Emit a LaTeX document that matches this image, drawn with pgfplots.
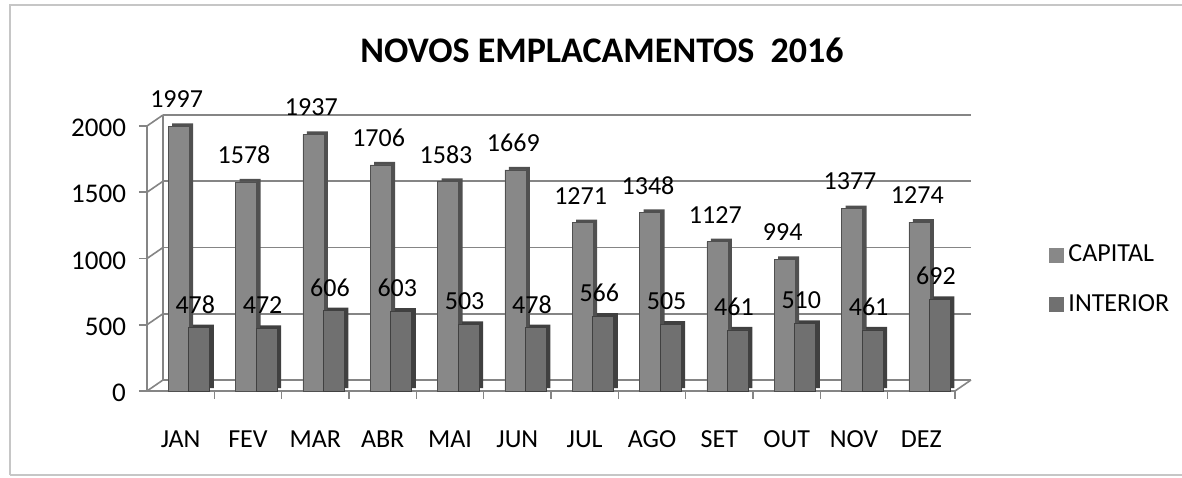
\documentclass[border=0pt]{standalone}
\usepackage{fontspec}
\setmainfont{Carlito}
\usepackage{pgfplots}
\pgfplotsset{compat=1.18}
\definecolor{capF}{HTML}{888888}
\definecolor{capS}{HTML}{505050}
\definecolor{intF}{HTML}{707070}
\definecolor{intS}{HTML}{404040}
\definecolor{gridc}{HTML}{858585}
\begin{document}
\begin{tikzpicture}
\useasboundingbox (0,0) rectangle (591pt,238.5pt);
\draw[gray!45, line width=0.8pt] (5pt,1pt) -- (5pt,236pt) -- (600pt,236pt);
\draw[gray!45, line width=0.8pt] (5pt,1pt) -- (600pt,1pt);
\node[font=\fontsize{18}{20}\selectfont\bfseries] at (301pt,213.5pt) {NOVOS EMPLACAMENTOS\ \ 2016};
\begin{axis}[
  at={(73.5pt,43pt)}, anchor=south west,
  scale only axis, width=404pt, height=132.5pt,
  xmin=-0.5, xmax=11.5, ymin=0, ymax=2000,
  clip=false,
  ybar, bar width=10.5pt,
  axis x line*=bottom, axis y line*=left,
  axis line style={gridc, line width=0.8pt},
  xtick={0,...,11},
  xticklabels={JAN,FEV,MAR,ABR,MAI,JUN,JUL,AGO,SET,OUT,NOV,DEZ},
  xtick style={draw=none},
  xticklabel style={anchor=center, yshift=-20pt, font=\fontsize{13}{15}\selectfont},
  ytick={0,500,...,2000},
  ytick style={gridc, line width=0.8pt},
  tick align=outside, major tick length=4pt,
  yticklabel style={anchor=east, xshift=-3pt, yshift=-1pt, font=\fontsize{13.5}{15}\selectfont},
  /pgf/number format/assume math mode=true,
  /pgf/number format/1000 sep={},
  legend style={at={(1.109,0.419)}, anchor=west, draw=none, fill=none,
    font=\fontsize{13}{15}\selectfont, row sep=11pt},
  legend cell align=left,
  legend image code/.code={\draw[#1, draw=none] (0pt,-3.75pt) rectangle (7.5pt,3.75pt);},
]
\pgfplotsinvokeforeach{0,500,1000,1500,2000}{
  \draw[gridc, line width=0.8pt] ([shift={(8pt,5.5pt)}]axis cs:-0.5,#1) -- ([shift={(8pt,5.5pt)}]axis cs:11.5,#1);
  \draw[gridc, line width=0.8pt] (axis cs:-0.5,#1) -- ([shift={(8pt,5.5pt)}]axis cs:-0.5,#1);
}
\draw[gridc, line width=0.6pt] ([shift={(8pt,5.5pt)}]axis cs:-0.5,0) -- ([shift={(8pt,5.5pt)}]axis cs:-0.5,2000);
\draw[gridc, line width=0.8pt] (axis cs:11.5,0) -- ([shift={(8pt,5.5pt)}]axis cs:11.5,0);
\pgfplotsinvokeforeach{0.5,1.5,...,11.5}{
  \draw[gridc, line width=0.8pt] (axis cs:#1,0) -- ++(0pt,-4pt);
}
% CAPITAL
\addplot[fill=capS, draw=none, bar shift=1pt, yshift=1.5pt, forget plot] coordinates {
 (0,1997) (1,1578) (2,1937) (3,1706) (4,1583) (5,1669) (6,1271) (7,1348) (8,1127) (9,994) (10,1377) (11,1274)};
\addplot[fill=capF, draw=capS, line width=0.3pt, bar shift=-1pt,
  nodes near coords,
  nodes near coords style={anchor=center, yshift=13.5pt, xshift=-1pt, font=\fontsize{13}{15}\selectfont, text=black}] coordinates {
 (0,1997) (1,1578) (2,1937) (3,1706) (4,1583) (5,1669) (6,1271) (7,1348) (8,1127) (9,994) (10,1377) (11,1274)};
\addlegendentry{CAPITAL}
% INTERIOR
\addplot[fill=intS, draw=none, bar shift=11.3pt, yshift=1.5pt, forget plot] coordinates {
 (0,478) (1,472) (2,606) (3,603) (4,503) (5,478) (6,566) (7,505) (8,461) (9,510) (10,461) (11,692)};
\addplot[fill=intF, draw=intS, line width=0.3pt, bar shift=9.3pt,
  nodes near coords,
  nodes near coords style={anchor=center, yshift=11.5pt, xshift=-2pt, font=\fontsize{13}{15}\selectfont, text=black}] coordinates {
 (0,478) (1,472) (2,606) (3,603) (4,503) (5,478) (6,566) (7,505) (8,461) (9,510) (10,461) (11,692)};
\addlegendentry{INTERIOR}
\end{axis}
\end{tikzpicture}
\end{document}
